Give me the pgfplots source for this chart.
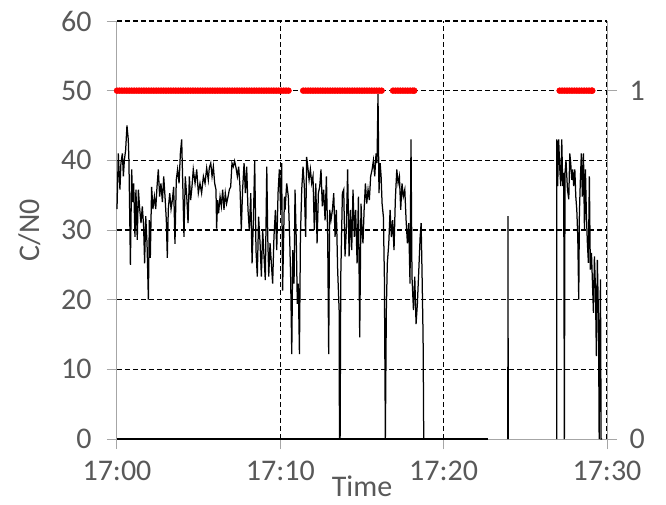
\documentclass[border=0pt]{standalone}
\usepackage{pgfplots}
\pgfplotsset{compat=1.18}
\usepackage{fontspec}
\setmainfont{Carlito}
\definecolor{txt}{RGB}{89,89,89}
\definecolor{axg}{RGB}{166,166,166}
\begin{document}
\begin{tikzpicture}[font=\fontsize{30bp}{36bp}\selectfont]
\pgfplotsset{every axis/.append style={scale only axis, width=490bp, height=418bp,
  xmin=0, xmax=30, tick align=outside, major tick length=10bp,
  tick style={axg, line width=1bp}, axis line style={axg, line width=1bp},
  ticklabel style={text=txt}, /pgf/number format/assume math mode=true}}
\begin{axis}[name=main, ymin=0, ymax=60, axis x line*=bottom, axis y line*=left, clip=false,
  xtick={0,10,20,30}, xticklabels={17:00,17:10,17:20,17:30},
  ytick={0,10,20,30,40,50,60},
  xticklabel style={yshift=-9bp}, yticklabel style={xshift=-12bp},
  extra x ticks={10,20,30}, extra x tick labels={},
  extra y ticks={10,20,30,40,50,60}, extra y tick labels={},
  extra x tick style={grid=major, major grid style={black, dash pattern=on 5bp off 3bp, line width=1.1bp}},
  extra y tick style={grid=major, major grid style={black, dash pattern=on 5bp off 3bp, line width=1.1bp}},
  xlabel={Time}, ylabel={C/N0}, label style={text=txt},
  xlabel style={at={(axis description cs:0.5,-0.137)}, anchor=base, inner sep=0pt},
  ylabel style={at={(axis description cs:-0.178,0.5)}, anchor=center},
]
\addplot[black, line width=2bp] coordinates {(0,0)(22.7,0)};
\addplot[black, line width=1.25bp] coordinates {
(0,33)(0.08,41)(0.18,35.8)(0.24,39.6)(0.33,41)(0.39,37.7)(0.45,40)(0.53,41.5)(0.61,45)(0.69,43)(0.73,40)(0.78,32)(0.82,25)(0.90,38.7)(0.96,34)(1.02,36.7)(1.10,29)(1.16,35.8)(1.24,28.6)(1.31,35.8)(1.39,33)(1.47,31)(1.55,33.4)(1.63,30.5)(1.69,25.2)(1.76,32)(1.84,28)(1.92,20)(1.98,31.4)(2.04,26)(2.12,36.2)(2.20,33)(2.29,34.8)(2.37,33)(2.45,36.2)(2.53,38.7)(2.61,34.8)(2.69,36.7)(2.78,34)(2.86,37.7)(2.94,34.8)(3.02,31.4)(3.08,26)(3.14,33)(3.23,35.3)(3.31,33)(3.39,34.3)(3.47,36.2)(3.55,28)(3.63,37.2)(3.71,38.7)(3.80,36.7)(3.88,41)(3.96,43)(4.04,35.3)(4.10,29)(4.18,37.7)(4.27,34.8)(4.35,31)(4.43,37.7)(4.51,34.3)(4.59,36.2)(4.67,38.7)(4.78,36.7)(4.88,38.7)(4.98,35.3)(5.08,36.7)(5.18,35.3)(5.29,37.7)(5.39,36.7)
(5.49,38.9)(5.59,37.2)(5.65,38.9)(5.74,39.6)(5.82,37.7)(5.90,39.1)(5.98,36.7)(6.06,35.8)(6.10,30.2)(6.16,34.3)(6.22,32.4)(6.31,34.8)(6.39,33.4)(6.47,35.8)(6.55,32.9)(6.63,35.3)(6.71,33.8)(6.80,34.8)(6.88,35.8)(6.96,36.2)(7.04,39.6)(7.12,39.1)(7.20,39.9)(7.29,38.9)(7.37,37.7)(7.45,39.1)(7.53,36.2)(7.61,30)(7.69,35.8)(7.78,39.6)(7.86,35.3)(7.94,39.1)(8.02,32.9)(8.10,30)(8.19,35.3)(8.27,25.2)(8.35,31.4)(8.43,39.9)(8.51,27.1)(8.59,23.3)(8.67,31.9)(8.76,28.1)(8.84,23.3)(8.92,30)(9.00,26.2)(9.08,22.8)(9.17,39.1)(9.23,29)(9.29,23.3)(9.37,28.1)(9.45,25.2)(9.53,22.3)(9.61,29)(9.70,32.9)(9.78,27.1)(9.86,35.3)(9.94,38.7)(10.02,32.9)(10.08,39.6)(10.14,21.3)(10.25,34.8)
(10.29,32.9)(10.39,36.7)(10.49,34.8)(10.57,29)(10.63,23.3)(10.70,12.2)(10.76,27.1)(10.84,22.3)(10.90,35.8)(10.98,28.1)(11.04,19.4)(11.10,22.3)(11.17,12.2)(11.23,29)(11.31,35.8)(11.39,39.1)(11.47,36.2)(11.55,29)(11.61,40.5)(11.68,39.1)(11.76,37.2)(11.84,38.7)(11.92,36.7)(12.00,37.7)(12.08,30)(12.17,36.7)(12.25,28.1)(12.33,35.3)(12.41,36.2)(12.49,38.7)(12.57,33.4)(12.65,35.8)(12.74,31.4)(12.82,37.7)(12.90,29)(12.96,12.2)(13.02,32.9)(13.10,31.4)(13.19,32.9)(13.27,35.3)(13.35,29)(13.43,32.9)(13.51,24.2)(13.60,18.5)(13.62,0)(13.64,16)(13.66,0)(13.70,23.3)(13.80,35.3)(13.88,35.8)(13.96,26.2)(14.04,30)(14.12,38.7)(14.21,26.2)(14.29,32.9)(14.37,27.1)(14.45,35.8)(14.53,29)(14.61,32.9)(14.70,25.2)(14.78,34.8)(14.86,14.6)
(14.94,33.8)(15.00,30)(15.06,28.1)(15.13,32.9)(15.21,36.7)(15.29,33.8)(15.37,35.8)(15.45,34.3)(15.53,37.7)(15.62,38.7)(15.70,40)(15.78,37.7)(15.86,41)(15.92,39.6)(15.98,49.5)(16.04,35.3)(16.11,39.6)(16.17,37.7)(16.23,33.8)(16.31,31.9)(16.37,23.3)(16.43,0)(16.49,18.5)(16.55,25.2)(16.64,28.1)(16.72,32.9)(16.80,29)(16.88,31.4)(16.96,27.1)(17.04,34.3)(17.13,38.7)(17.21,36.7)(17.29,37.7)(17.37,32.9)(17.45,36.7)(17.53,34.8)(17.62,35.8)(17.70,31.4)(17.78,28.1)(17.86,31)(17.94,22.3)(18.00,43)(18.06,23.3)(18.15,18.5)(18.23,23.3)(18.31,16.5)(18.39,19.4)(18.47,23.8)(18.56,29)(18.62,31)(18.68,23.3)(18.74,14.6)(18.78,0)(22.7,0)
};
\addplot[black, line width=1.1bp] coordinates {(23.92,0)(23.94,32)(23.96,0)};
\addplot[black, line width=1.25bp] coordinates {
(26.92,0)(26.93,43)(26.98,36.3)(27.04,43)(27.11,38.7)(27.17,36.3)(27.23,43)(27.29,36.3)(27.35,38.2)(27.39,0)(27.43,38.2)(27.49,40)(27.58,35.8)(27.66,34.4)(27.72,41)(27.78,39.6)(27.84,37.2)(27.90,38.7)(27.96,36.3)(28.03,38.7)(28.09,34.8)(28.15,32.9)(28.21,29.1)(28.27,20)(28.31,32.4)(28.37,37.2)(28.43,41)(28.49,34.8)(28.56,41)(28.62,30)(28.68,38.7)(28.74,32)(28.80,28.1)(28.86,25.3)(28.92,37.7)(28.98,24.3)(29.05,26.7)(29.11,22.4)(29.17,18.1)(29.23,26.2)(29.29,21.9)(29.35,11.9)(29.41,25.7)(29.48,17.1)(29.52,0)(29.56,11.9)(29.60,22.9)(29.64,0)(29.7,0)
};
\end{axis}
\begin{axis}[ymin=0, ymax=1.2, axis x line=none, axis y line*=right, ytick={0,1}, clip=false,
  yticklabel style={xshift=9bp}]
\addplot[only marks, mark=*, mark size=3bp, color=red, mark options={draw=red, fill=red}] coordinates {
(0,1)(0.15,1)(0.3,1)(0.45,1)(0.6,1)(0.75,1)(0.9,1)(1.05,1)(1.2,1)(1.35,1)(1.5,1)(1.65,1)(1.8,1)(1.95,1)(2.1,1)(2.25,1)(2.4,1)(2.55,1)(2.7,1)(2.85,1)(3,1)(3.15,1)(3.3,1)(3.45,1)(3.6,1)(3.75,1)(3.9,1)(4.05,1)(4.2,1)(4.35,1)(4.5,1)(4.65,1)(4.8,1)(4.95,1)(5.1,1)(5.25,1)(5.4,1)(5.55,1)(5.7,1)(5.85,1)(6,1)(6.15,1)(6.3,1)(6.45,1)(6.6,1)(6.75,1)(6.9,1)(7.05,1)(7.2,1)(7.35,1)(7.5,1)(7.65,1)(7.8,1)(7.95,1)(8.1,1)(8.25,1)(8.4,1)(8.55,1)(8.7,1)(8.85,1)(9,1)(9.15,1)(9.3,1)(9.45,1)(9.6,1)(9.75,1)(9.9,1)(10.05,1)(10.2,1)(10.35,1)(10.5,1)
(11.4,1)(11.55,1)(11.7,1)(11.85,1)(12,1)(12.15,1)(12.3,1)(12.45,1)(12.6,1)(12.75,1)(12.9,1)(13.05,1)(13.2,1)(13.35,1)(13.5,1)(13.65,1)(13.8,1)(13.95,1)(14.1,1)(14.25,1)(14.4,1)(14.55,1)(14.7,1)(14.85,1)(15,1)(15.15,1)(15.3,1)(15.45,1)(15.6,1)(15.75,1)(15.9,1)(16.05,1)(16.2,1)
(16.9,1)(17.05,1)(17.2,1)(17.35,1)(17.5,1)(17.65,1)(17.8,1)(17.95,1)(18.1,1)(18.2,1)
(27.1,1)(27.25,1)(27.4,1)(27.55,1)(27.7,1)(27.85,1)(28,1)(28.15,1)(28.3,1)(28.45,1)(28.6,1)(28.75,1)(28.9,1)(29.05,1)(29.1,1)
};
\end{axis}
\pgfresetboundingbox
\useasboundingbox (-117bp,-66bp) rectangle (549bp,439bp);
\end{tikzpicture}
\end{document}
